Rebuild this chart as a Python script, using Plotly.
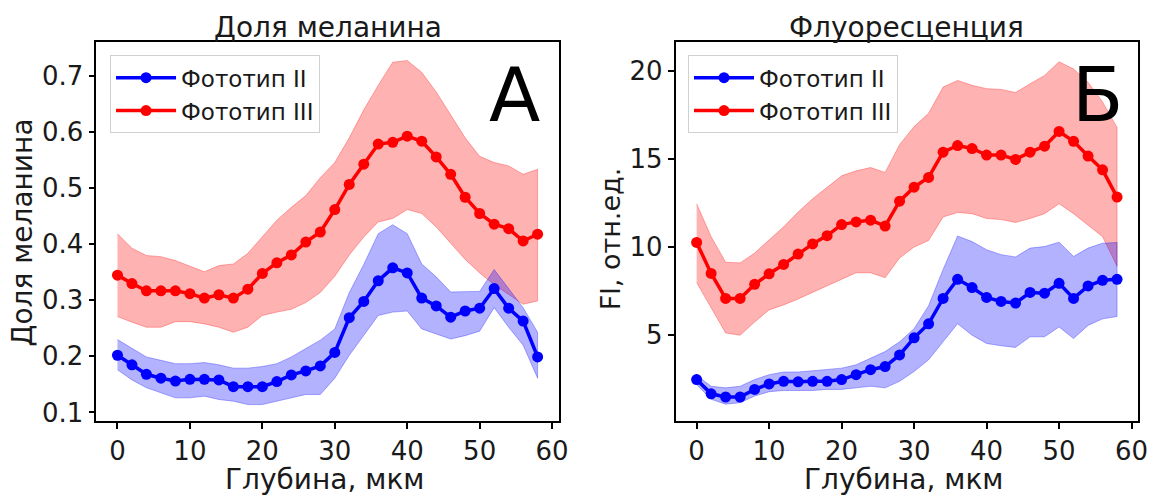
import plotly.graph_objects as go

W, H = 1157, 498

depth = list(range(0, 60, 2))

# Panel A: melanin fraction
mel_ii = [0.202, 0.185, 0.168, 0.161, 0.156, 0.159, 0.159, 0.158, 0.146, 0.146,
          0.146, 0.155, 0.167, 0.174, 0.183, 0.207, 0.269, 0.298, 0.335, 0.358,
          0.349, 0.304, 0.290, 0.270, 0.281, 0.286, 0.321, 0.286, 0.263, 0.199]
mel_ii_hi = [0.230, 0.214, 0.199, 0.193, 0.187, 0.187, 0.189, 0.185, 0.179, 0.179,
             0.182, 0.187, 0.199, 0.214, 0.229, 0.249, 0.314, 0.364, 0.419, 0.435,
             0.419, 0.365, 0.342, 0.315, 0.316, 0.316, 0.355, 0.320, 0.287, 0.243]
mel_ii_lo = [0.176, 0.158, 0.144, 0.135, 0.126, 0.126, 0.129, 0.123, 0.120, 0.114,
             0.114, 0.120, 0.126, 0.132, 0.132, 0.161, 0.202, 0.237, 0.273, 0.279,
             0.281, 0.249, 0.240, 0.231, 0.237, 0.245, 0.287, 0.252, 0.220, 0.161]
mel_iii = [0.345, 0.330, 0.317, 0.317, 0.317, 0.312, 0.304, 0.310, 0.304, 0.320,
           0.348, 0.367, 0.381, 0.404, 0.422, 0.462, 0.507, 0.543, 0.579, 0.582,
           0.593, 0.584, 0.556, 0.525, 0.484, 0.455, 0.436, 0.428, 0.406, 0.418]
mel_iii_hi = [0.419, 0.393, 0.380, 0.378, 0.371, 0.361, 0.351, 0.362, 0.365, 0.384,
              0.413, 0.443, 0.466, 0.487, 0.519, 0.546, 0.590, 0.640, 0.684, 0.725,
              0.728, 0.707, 0.672, 0.631, 0.590, 0.557, 0.546, 0.540, 0.525, 0.534]
mel_iii_lo = [0.271, 0.261, 0.252, 0.252, 0.262, 0.262, 0.258, 0.252, 0.243, 0.252,
              0.273, 0.279, 0.284, 0.296, 0.314, 0.343, 0.381, 0.413, 0.440, 0.446,
              0.462, 0.455, 0.431, 0.402, 0.373, 0.349, 0.328, 0.311, 0.293, 0.299]

# Panel B: fluorescence
fl_ii = [2.48, 1.67, 1.49, 1.49, 1.92, 2.23, 2.38, 2.35, 2.38, 2.38,
         2.48, 2.76, 3.04, 3.22, 3.88, 4.85, 5.65, 7.09, 8.18, 7.71,
         7.15, 6.92, 6.83, 7.43, 7.39, 7.95, 7.09, 7.80, 8.12, 8.18]
fl_ii_hi = [2.72, 2.10, 2.01, 2.10, 2.48, 2.76, 2.91, 2.91, 2.98, 3.04,
            3.13, 3.32, 3.69, 4.07, 4.63, 5.37, 6.68, 8.74, 10.64, 10.32,
            9.86, 9.58, 9.45, 9.95, 10.04, 10.29, 9.48, 9.95, 10.23, 10.27]
fl_ii_lo = [2.20, 1.36, 1.08, 1.17, 1.54, 1.79, 1.86, 1.86, 1.86, 1.92,
            1.92, 2.01, 2.10, 2.01, 2.38, 2.94, 3.60, 4.63, 5.65, 5.00,
            4.53, 4.40, 4.31, 4.91, 4.91, 5.47, 4.81, 5.56, 5.93, 6.06]
fl_iii = [10.27, 8.51, 7.09, 7.09, 7.89, 8.49, 9.02, 9.61, 10.19, 10.66,
          11.29, 11.44, 11.54, 11.20, 12.62, 13.41, 13.97, 15.40, 15.78, 15.61,
          15.24, 15.24, 14.99, 15.40, 15.74, 16.58, 16.02, 15.18, 14.40, 12.85]
fl_iii_hi = [12.47, 10.60, 9.15, 9.11, 9.67, 10.42, 11.16, 12.00, 12.75, 13.41,
             14.06, 14.34, 14.53, 14.25, 15.83, 16.86, 17.61, 19.10, 19.48, 19.20,
             19.01, 18.97, 18.79, 19.29, 19.76, 20.54, 20.13, 19.38, 18.26, 16.81]
fl_iii_lo = [7.99, 6.53, 5.13, 5.00, 5.75, 6.44, 6.72, 7.06, 7.43, 7.80,
             8.17, 8.55, 8.55, 8.27, 9.39, 10.01, 10.38, 11.72, 11.97, 11.91,
             11.63, 11.57, 11.41, 11.63, 11.91, 12.47, 11.91, 11.26, 10.60, 8.92]

names = ["Фототип II", "Фототип III"]
titles = ["Доля меланина", "Флуоресценция"]
ytitles = ["Доля меланина", "Fl, отн.ед."]
xtitle = "Глубина, мкм"
letters = ["А", "Б"]

FONT = "DejaVu Sans"
TXT = "#1a1a1a"
colors = ["#0000ff", "#ff0000"]
fills = ["rgba(0,0,255,0.3)", "rgba(255,0,0,0.3)"]

fig = go.Figure()


def band(xs, hi, lo, i, xa, ya):
    fig.add_trace(go.Scatter(
        x=list(xs) + list(xs)[::-1], y=list(hi) + list(lo)[::-1],
        fill="toself", fillcolor=fills[i], mode="lines",
        line=dict(color=fills[i], width=1), hoverinfo="skip",
        showlegend=False, xaxis=xa, yaxis=ya))


def line(xs, ys, i, xa, ya, leg):
    fig.add_trace(go.Scatter(
        x=xs, y=ys, mode="lines+markers", name=names[i],
        line=dict(color=colors[i], width=3.5),
        marker=dict(color=colors[i], size=11),
        xaxis=xa, yaxis=ya, legend=leg))


# Panel A
band(depth, mel_iii_hi, mel_iii_lo, 1, "x", "y")
band(depth, mel_ii_hi, mel_ii_lo, 0, "x", "y")
line(depth, mel_ii, 0, "x", "y", "legend")
line(depth, mel_iii, 1, "x", "y", "legend")
# Panel B
band(depth, fl_iii_hi, fl_iii_lo, 1, "x2", "y2")
band(depth, fl_ii_hi, fl_ii_lo, 0, "x2", "y2")
line(depth, fl_ii, 0, "x2", "y2", "legend2")
line(depth, fl_iii, 1, "x2", "y2", "legend2")


def px(v):
    return v / W


def py(v):
    return 1 - v / H


axis_common = dict(showline=True, mirror=True, linecolor="black", linewidth=1.8,
                   ticks="outside", ticklen=6, tickwidth=1.8, tickcolor="black",
                   showgrid=False, zeroline=False,
                   tickfont=dict(family=FONT, size=26, color=TXT))

yd = [py(426.7), py(43)]
legend_common = dict(xanchor="left", yanchor="top", itemwidth=60,
                     bgcolor="rgba(255,255,255,0.8)", bordercolor="#d0d0d0", borderwidth=1,
                     font=dict(family=FONT, size=23, color=TXT), tracegroupgap=0)
fig.update_layout(
    width=W, height=H, margin=dict(l=0, r=0, t=0, b=0),
    paper_bgcolor="white", plot_bgcolor="white",
    font=dict(family=FONT, color=TXT),
    xaxis=dict(domain=[px(97.3), px(563.5)], range=[-2.9, 60.9],
               tickvals=[0, 10, 20, 30, 40, 50, 60], anchor="y", **axis_common),
    yaxis=dict(domain=yd, range=[0.0852, 0.7604],
               tickvals=[0.1, 0.2, 0.3, 0.4, 0.5, 0.6, 0.7], tickformat=".1f",
               anchor="x", **axis_common),
    xaxis2=dict(domain=[px(681.5), px(1148)], range=[-2.9, 60.9],
                tickvals=[0, 10, 20, 30, 40, 50, 60], anchor="y2", **axis_common),
    yaxis2=dict(domain=yd, range=[0.143, 21.64], tickvals=[5, 10, 15, 20],
                anchor="x2", **axis_common),
    legend=dict(x=px(111), y=py(56), **legend_common),
    legend2=dict(x=px(694), y=py(56), **legend_common),
)

ann = []
centers = [(97.3 + 563.5) / 2, (681.5 + 1148) / 2]
for k in range(2):
    ann.append(dict(text=titles[k], x=px(centers[k]), y=py(28), xref="paper", yref="paper",
                    showarrow=False, xanchor="center", yanchor="middle",
                    font=dict(family=FONT, size=28, color=TXT)))
    ann.append(dict(text=xtitle, x=px(centers[k] - 3), y=py(486), xref="paper", yref="paper",
                    showarrow=False, xanchor="center", yanchor="middle",
                    font=dict(family=FONT, size=28, color=TXT)))
ann.append(dict(text=ytitles[0], x=px(23), y=py(236), xref="paper", yref="paper",
                showarrow=False, textangle=-90, xanchor="center", yanchor="middle",
                font=dict(family=FONT, size=28, color=TXT)))
ann.append(dict(text=ytitles[1], x=px(616), y=py(242), xref="paper", yref="paper",
                showarrow=False, textangle=-90, xanchor="center", yanchor="middle",
                font=dict(family=FONT, size=27, color=TXT)))
ann.append(dict(text=letters[0], x=px(519), y=py(96), xref="paper", yref="paper",
                showarrow=False, xanchor="center", yanchor="middle",
                font=dict(family=FONT, size=75, color="black")))
ann.append(dict(text=letters[1], x=px(1107), y=py(96), xref="paper", yref="paper",
                showarrow=False, xanchor="center", yanchor="middle",
                font=dict(family=FONT, size=75, color="black")))
fig.update_layout(annotations=ann)

fig.write_html("out.html")
